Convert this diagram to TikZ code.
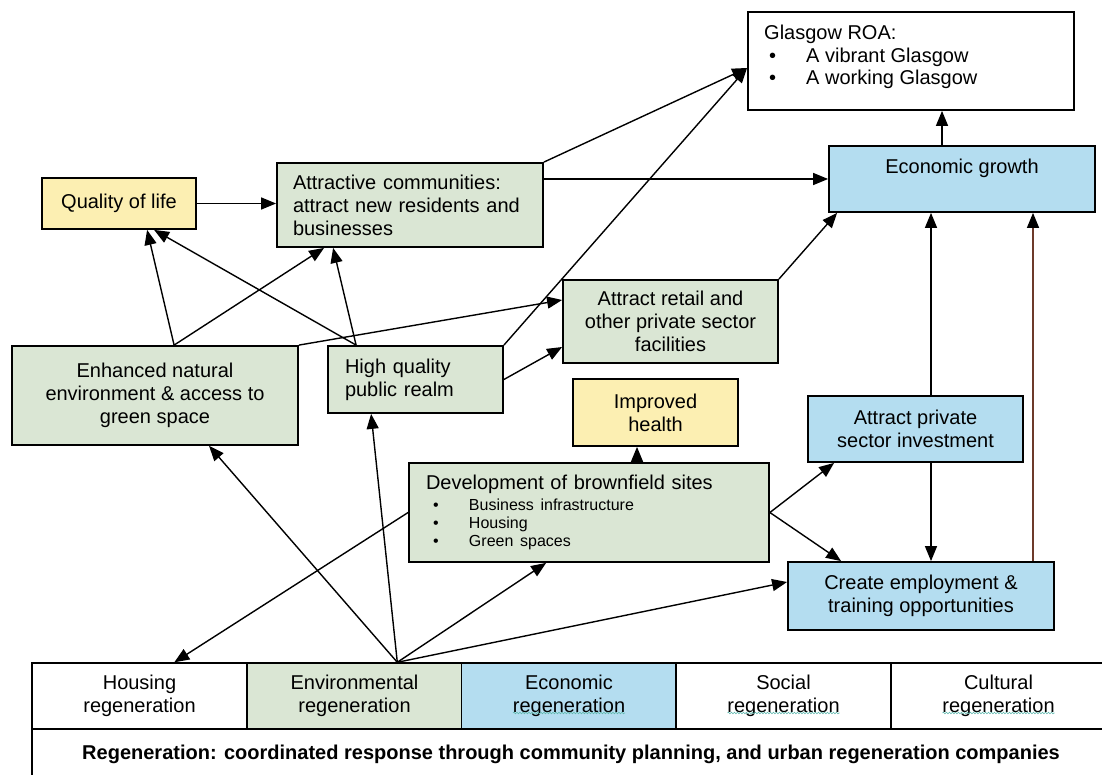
\documentclass[tikz,border=0pt]{standalone}
\usepackage{fontspec}
\setmainfont{Liberation Sans}
\usetikzlibrary{arrows.meta,decorations.pathmorphing}

\definecolor{boxgreen}{RGB}{218,230,212}
\definecolor{boxblue}{RGB}{180,221,240}
\definecolor{boxyellow}{RGB}{252,239,178}
\definecolor{linkbrown}{RGB}{110,58,42}
\definecolor{spellmark}{RGB}{95,185,175}

\begin{document}
\begin{tikzpicture}[x=1pt,y=-1pt,
  every node/.style={font=\fontsize{20}{23}\selectfont},
  box/.style={draw=black, line width=1.8pt, inner sep=0pt, align=center},
  cell/.style={draw=black, line width=1.4pt, inner sep=0pt,
    minimum width=215pt, minimum height=66pt, align=center},
  link/.style={line width=1.4pt, -{Triangle[length=15pt,width=12pt,color=black]}},
  wavy/.style={spellmark, line width=0.6pt, decorate,
    decoration={snake, amplitude=0.8pt, segment length=3pt}}]

\clip (0,0) rectangle (1102,775);
\fill[white] (0,0) rectangle (1102,775);

% ---- outcome boxes ----
\node[box, fill=white, minimum width=326pt, minimum height=98pt] (glas) at (911,61) {};
\node[anchor=north west, inner sep=0pt, align=left,
      font=\fontsize{20}{22.5}\selectfont] (glas-t) at (764,25)
  {Glasgow ROA:\\
   \hspace*{5pt}\makebox[37pt][l]{\textbullet}A vibrant Glasgow\\
   \hspace*{5pt}\makebox[37pt][l]{\textbullet}A working Glasgow};

\node[box, fill=boxblue, minimum width=266pt, minimum height=66pt] (eg) at (962,179) {};
\node[anchor=north, inner sep=0pt] (eg-t) at (962,159) {Economic growth};

\node[box, fill=boxyellow, minimum width=154pt, minimum height=51pt] (qol) at (119,203.5) {Quality of life};

\node[box, fill=boxgreen, minimum width=266pt, minimum height=84pt,
      text width=234pt, align=left] (ac) at (410,205)
  {Attractive communities:\\attract new residents and\\businesses};

\node[box, fill=boxgreen, minimum width=215pt, minimum height=83pt] (retail) at (670.5,321.5)
  {Attract retail and\\other private sector\\facilities};

\node[box, fill=boxgreen, minimum width=286pt, minimum height=99pt] (env) at (155,395.5)
  {Enhanced natural\\environment \& access to\\green space};

\node[box, fill=boxgreen, minimum width=175pt, minimum height=67pt,
      text width=141pt, align=left] (hq) at (415.5,379.5)
  {High quality\\public realm};

\node[box, fill=boxyellow, minimum width=165pt, minimum height=67pt] (health) at (655.5,412.5)
  {Improved\\health};

\node[box, fill=boxblue, minimum width=215pt, minimum height=66pt] (priv) at (915.5,429)
  {Attract private\\sector investment};

\node[box, fill=boxgreen, minimum width=360pt, minimum height=99pt,
      text width=326pt, align=left] (dev) at (589,512.5)
  {Development of brownfield sites\par\vspace{3pt}
   {\fontsize{16}{18}\selectfont
    \hspace*{7pt}\makebox[36pt][l]{\textbullet}Business infrastructure\\
    \hspace*{7pt}\makebox[36pt][l]{\textbullet}Housing\\
    \hspace*{7pt}\makebox[36pt][l]{\textbullet}Green spaces\par}};

\node[box, fill=boxblue, minimum width=266pt, minimum height=68pt] (emp) at (921,596)
  {Create employment \&\\training opportunities};

% ---- regeneration strands ----
\node[cell] (hreg) at (139.5,696) {Housing\\regeneration};
\node[cell, fill=boxgreen] (envreg) at (354.5,696) {Environmental\\regeneration};
\node[cell, fill=boxblue] (ecoreg) at (569,696) {Economic\\regeneration};
\node[cell] (socreg) at (783.5,696) {Social\\regeneration};
\node[cell] (culreg) at (998.5,696) {Cultural\\regeneration};
\node[cell, minimum width=1078pt, minimum height=50pt,
      font=\bfseries\fontsize{20}{23}\selectfont] (regen) at (571,754)
  {Regeneration: coordinated response through community planning, and urban regeneration companies};

% spell-check marks under three labels
\draw[wavy] ([xshift=-56pt,yshift=-17pt]ecoreg.center) -- ([xshift=56pt,yshift=-17pt]ecoreg.center);
\draw[wavy] ([xshift=-56pt,yshift=-17pt]socreg.center) -- ([xshift=56pt,yshift=-17pt]socreg.center);
\draw[wavy] ([xshift=-56pt,yshift=-17pt]culreg.center) -- ([xshift=56pt,yshift=-17pt]culreg.center);

% ---- connectors ----
\draw[link] (qol.east) -- (qol.east -| ac.west);
\draw[link] (eg.west -| ac.east) -- (eg.west);
\draw[link] (ac.north east) -- ([yshift=-7pt]glas.west);
\draw[link] (hq.north east) -- ([yshift=-7pt]glas.west);

\draw[link] ([xshift=163pt]env.north west) -- ([xshift=106pt]qol.south west);
\draw[link] ([xshift=163pt]env.north west) -- ([xshift=48pt]ac.south west);
\draw[link] ([xshift=29pt]hq.north west) -- ([xshift=113pt]qol.south west);
\draw[link] ([xshift=29pt]hq.north west) -- ([xshift=57pt]ac.south west);

\draw[link] (env.north east) -- ([yshift=21.5pt]retail.west);
\draw[link] (hq.east) -- ([yshift=-25.5pt]retail.west);
\draw[link] (retail.north east) -- ([xshift=9pt]eg.south west);

\coordinate (eg-up) at ([xshift=-20pt]eg.north);
\draw[link] (eg-up) -- (eg-up |- glas.south);
\coordinate (priv-up) at ([xshift=15.5pt]priv.north);
\draw[link] (priv-up) -- (priv-up |- eg.south);
\coordinate (priv-dn) at ([xshift=15.5pt]priv.south);
\draw[link] (priv-dn) -- (priv-dn |- emp.north);
\coordinate (emp-up) at ([xshift=112pt]emp.north);
\draw[link, draw=linkbrown] (emp-up) -- (emp-up |- eg.south);

\coordinate (dev-up) at ([xshift=48pt]dev.north);
\draw[link] (dev-up) -- (dev-up |- health.south);
\draw[link] (dev.east) -- ([xshift=27pt]priv.south west);
\draw[link] (dev.east) -- ([xshift=54pt]emp.north west);
\draw[link] (dev.west) -- ([xshift=143pt]hreg.north west);

\coordinate (fan) at ([xshift=151pt]envreg.north west);
\draw[link] (fan) -- ([xshift=198pt]env.south west);
\draw[link] (fan) -- ([xshift=44pt]hq.south west);
\draw[link] (fan) -- ([xshift=138pt]dev.south west);
\draw[link] (fan) -- ([yshift=14pt]emp.west);

\end{tikzpicture}
\end{document}
